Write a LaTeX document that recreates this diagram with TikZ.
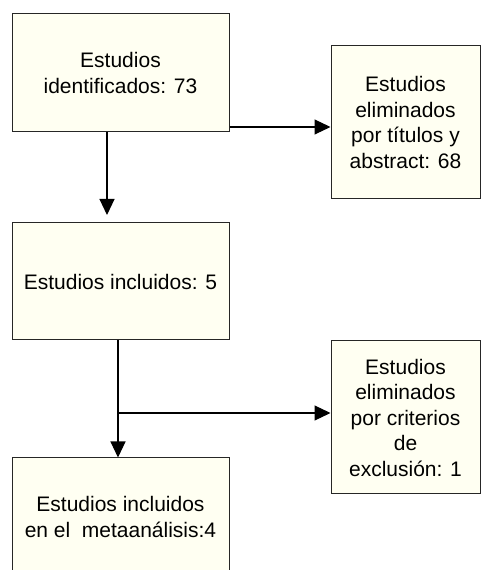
\documentclass[tikz,border=0pt]{standalone}
\usepackage{fontspec}
\setmainfont{Liberation Sans}
\usetikzlibrary{arrows.meta}
\definecolor{boxfill}{RGB}{255,255,242}
\begin{document}
\begin{tikzpicture}[x=1pt,y=1pt,
  box/.style={draw=black!85, line width=1pt, fill=boxfill, rectangle, inner sep=0pt,
    align=center, font=\fontsize{21}{25.5}\selectfont},
  arr/.style={line width=1.1pt, -{Triangle[length=16pt,width=15pt]}}]
\useasboundingbox (0,0) rectangle (481,570);
\clip (0,0) rectangle (481,570);
\fill[white] (0,0) rectangle (481,570);
\node[box, minimum width=217pt, minimum height=118pt] (b1) at (120.5,497) {Estudios\\identificados: 73};
\node[box, minimum width=149pt, minimum height=153pt] (b2) at (405.5,447.5) {Estudios\\eliminados\\por títulos y\\abstract: 68};
\node[box, minimum width=217pt, minimum height=117pt] (b3) at (120.5,288.5) {Estudios incluidos: 5};
\node[box, minimum width=217pt, minimum height=118pt] (b4) at (120.5,53) {Estudios incluidos\\en el\ \ metaanálisis:4};
\node[box, minimum width=149pt, minimum height=153pt] (b5) at (405.5,152.5) {Estudios\\eliminados\\por criterios\\de\\exclusión: 1};
\coordinate (c1) at (107,355);
\coordinate (j) at (118,157);
\draw[arr] (b1.east |- 0,443) -- (b2.west |- 0,443);
\draw[arr] (b1.south -| c1) -- (c1);
\draw[arr] (b3.south -| j) -- (b4.north -| j);
\draw[arr] (j) -- (b5.west |- j);
\end{tikzpicture}
\end{document}
